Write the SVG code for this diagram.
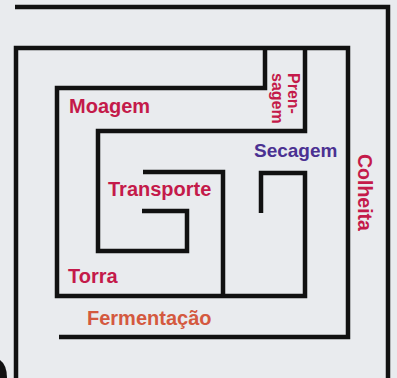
<svg xmlns="http://www.w3.org/2000/svg" width="397" height="378" viewBox="0 0 397 378">
<style>
.wall{fill:none;stroke:#111;stroke-width:4.5;stroke-linejoin:miter;stroke-linecap:butt}
.t{font-family:"Liberation Sans",Arial,sans-serif;font-weight:bold;font-size:20px}
.red{fill:#c41a4a}
.pur{fill:#4b3192}
.org{fill:#d4593f}
</style>
<rect x="0" y="0" width="397" height="378" fill="#e9ebee"/>
<g id="walls">
<polyline class="wall" points="15,7 388,7 388,378"/>
<polyline class="wall" points="16,378 16,48 348,48 348,337 59,337"/>
<polyline class="wall" points="265,48 265,88 57,88 57,296 305,296 305,173 261,173 261,213"/>
<polyline class="wall" points="305,48 305,131 98,131 98,251 187,251 187,211 142,211"/>
<polyline class="wall" points="143,172 223,172 223,296"/>
</g>
<path d="M0,360 Q7,365 7,378 L0,378 Z" fill="#111"/>
<g id="labels">
<g id="moagem"><text class="t red" x="69" y="113">Moagem</text></g>
<g id="transporte"><text class="t red" x="108" y="196">Transporte</text></g>
<g id="torra"><text class="t red" x="68" y="283">Torra</text></g>
<g id="fermentacao"><text class="t org" x="87" y="325">Fermentação</text></g>
<g id="secagem"><text class="t pur" x="254" y="157" style="font-size:19px">Secagem</text></g>
<g id="colheita"><text class="t red" transform="translate(358,154) rotate(90)" style="font-size:19.5px">Colheita</text></g>
<g id="prensagem">
<text class="t red" transform="translate(288,73) rotate(90)" style="font-size:16px">Pren-</text>
<text class="t red" transform="translate(272,73) rotate(90)" style="font-size:16px">sagem</text>
</g>
</g>
</svg>
